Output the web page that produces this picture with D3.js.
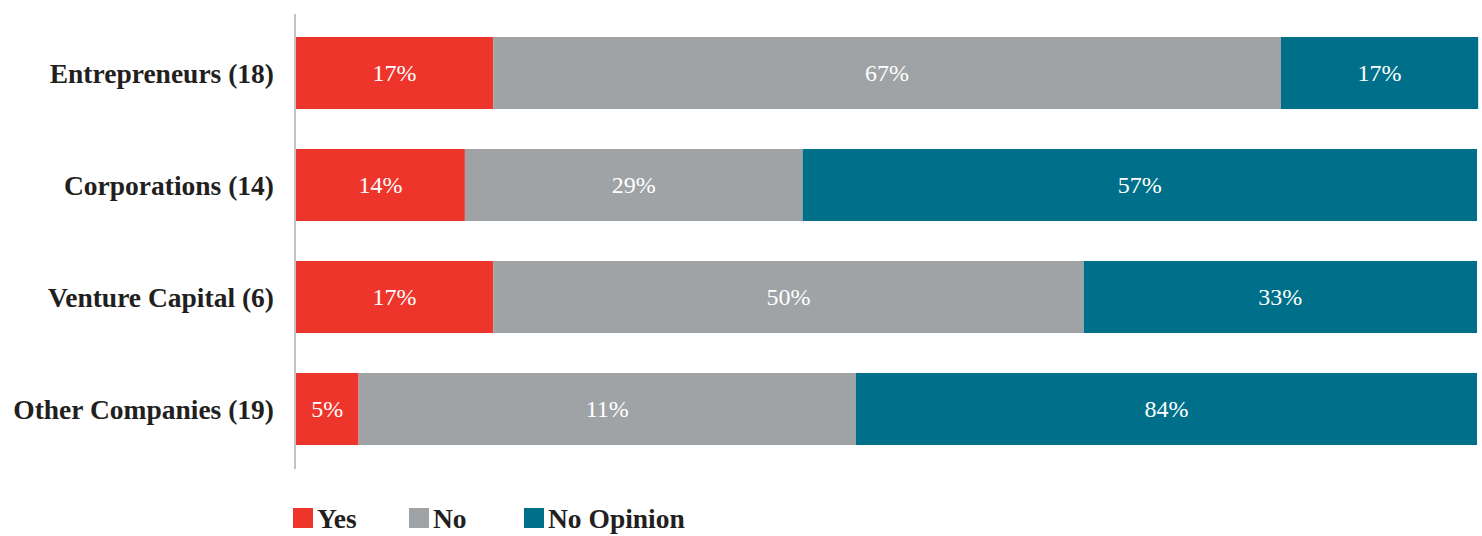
<!DOCTYPE html>
<html><head><meta charset="utf-8">
<script src="https://cdn.jsdelivr.net/npm/d3@7/dist/d3.min.js"></script>
<style>body{margin:0;background:#fff}svg{display:block}</style>
</head><body>
<script>
const categories = ["Entrepreneurs (18)", "Corporations (14)", "Venture Capital (6)", "Other Companies (19)"];
const seriesNames = ["Yes", "No", "No Opinion"];
const yesValues = [16.7, 14.3, 16.7, 5.3];
const noValues = [66.7, 28.6, 50.0, 42.1];
const noOpinionValues = [16.7, 57.1, 33.3, 52.6];
const yesLabels = ["17%", "14%", "17%", "5%"];
const noLabels = ["67%", "29%", "50%", "11%"];
const noOpinionLabels = ["17%", "57%", "33%", "84%"];
const colors = ["#ee352b", "#a0a3a6", "#00708a"];

const W = 1482, H = 536;
const svg = d3.select("body").append("svg").attr("width", W).attr("height", H);
const font = "'Liberation Serif', 'Times New Roman', serif";

const x = d3.scaleLinear().domain([0, 100]).range([296, 1477]);
const y = d3.scaleBand().domain(categories).range([14.6, 467.4]).paddingInner(0.357).paddingOuter(0.2);

const rows = categories.map((c, i) => ({
  cat: c,
  vals: [yesValues[i], noValues[i], noOpinionValues[i]],
  labels: [yesLabels[i], noLabels[i], noOpinionLabels[i]]
}));

const seg = [];
rows.forEach(r => {
  let acc = 0;
  r.vals.forEach((v, k) => {
    seg.push({cat: r.cat, x0: acc, x1: acc + v, k, label: r.labels[k]});
    acc += v;
  });
});

svg.append("g").selectAll("rect").data(seg).join("rect")
  .attr("x", d => x(d.x0)).attr("width", d => x(d.x1) - x(d.x0))
  .attr("y", d => y(d.cat)).attr("height", y.bandwidth())
  .attr("fill", d => colors[d.k]);

svg.append("g").selectAll("text").data(seg).join("text")
  .attr("x", d => (x(d.x0) + x(d.x1)) / 2)
  .attr("y", d => y(d.cat) + y.bandwidth() / 2)
  .attr("dy", "0.35em").attr("text-anchor", "middle")
  .attr("fill", "#fff").style("font-family", font).style("font-size", "24px")
  .text(d => d.label);

// category axis
const yAxis = svg.append("g").attr("transform", "translate(295,0)")
  .call(d3.axisLeft(y).tickSize(0).tickPadding(21));
yAxis.select(".domain").remove();
yAxis.selectAll("text").attr("fill", "#231f20").attr("dy", "0.35em")
  .style("font-family", font).style("font-size", "27.5px").style("font-weight", "bold");
svg.append("line").attr("x1", 295).attr("x2", 295).attr("y1", 14).attr("y2", 469)
  .attr("stroke", "#c2c3c5").attr("stroke-width", 2);

// legend
const legendX = [293, 409, 524];
const lg = svg.append("g").selectAll("g").data(seriesNames).join("g")
  .attr("transform", (d, i) => `translate(${legendX[i]},508)`);
lg.append("rect").attr("width", 20).attr("height", 20).attr("fill", (d, i) => colors[i]);
lg.append("text").attr("x", 24).attr("y", 20).attr("fill", "#231f20")
  .style("font-family", font).style("font-size", "27.5px").style("font-weight", "bold")
  .text(d => d);
</script>
</body></html>
